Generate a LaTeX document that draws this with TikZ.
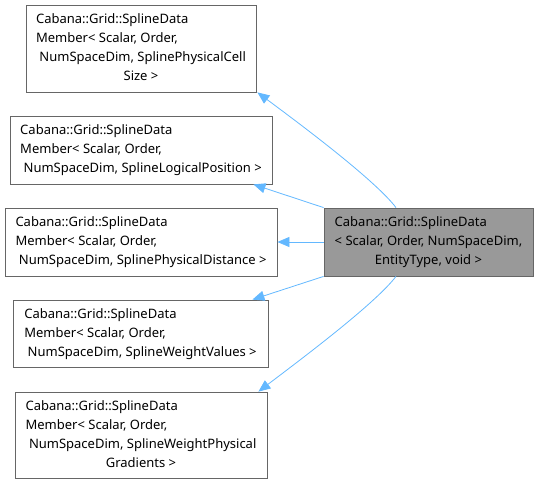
\documentclass[tikz,border=0pt]{standalone}
\usepackage{fontspec}
\setmainfont{Noto Sans}
\usetikzlibrary{arrows.meta}
\definecolor{edgeblue}{HTML}{63B8FF}
\definecolor{boxline}{HTML}{666666}
\definecolor{mainfill}{HTML}{999999}
\begin{document}
\begin{tikzpicture}[x=1bp,y=-1bp,
    every node/.style={font=\fontsize{13bp}{19bp}\selectfont,inner sep=0pt},
    base/.style={draw=boxline,line width=0.8bp},
    derived/.style={base,fill=mainfill},
    edge/.style={draw=edgeblue,line width=0.8bp,-{Triangle[length=12bp,width=10bp]}}]
    \useasboundingbox (0,0) rectangle (538,484);

    % base classes
    \node[base,minimum width=230bp,minimum height=87bp] (cellsize) at (141,48.5)
        {\begin{tabular}{@{}l@{}}Cabana::Grid::SplineData\\Member< Scalar, Order,\\\ NumSpaceDim, SplinePhysicalCell\\\multicolumn{1}{@{}c@{}}{Size >}\end{tabular}};
    \node[base,minimum width=262bp,minimum height=68bp] (logpos) at (141,150)
        {\begin{tabular}{@{}l@{}}Cabana::Grid::SplineData\\Member< Scalar, Order,\\\ NumSpaceDim, SplineLogicalPosition >\end{tabular}};
    \node[base,minimum width=272bp,minimum height=68bp] (physdist) at (141,242)
        {\begin{tabular}{@{}l@{}}Cabana::Grid::SplineData\\Member< Scalar, Order,\\\ NumSpaceDim, SplinePhysicalDistance >\end{tabular}};
    \node[base,minimum width=255bp,minimum height=67bp] (weightval) at (140.5,333.5)
        {\begin{tabular}{@{}l@{}}Cabana::Grid::SplineData\\Member< Scalar, Order,\\\ NumSpaceDim, SplineWeightValues >\end{tabular}};
    \node[base,minimum width=252bp,minimum height=86bp] (weightgrad) at (141,435)
        {\begin{tabular}{@{}l@{}}Cabana::Grid::SplineData\\Member< Scalar, Order,\\\ NumSpaceDim, SplineWeightPhysical\\\multicolumn{1}{@{}c@{}}{Gradients >}\end{tabular}};

    % derived class
    \node[derived,minimum width=209bp,minimum height=68bp] (splinedata) at (428.5,242)
        {\begin{tabular}{@{}l@{}}Cabana::Grid::SplineData\\< Scalar, Order, NumSpaceDim,\\\multicolumn{1}{@{}c@{}}{EntityType, void >}\end{tabular}};

    % inheritance edges
    \draw[edge] ([xshift=-32.5bp]splinedata.north) .. controls (375,180) and (300,124) .. ([xshift=1bp]cellsize.south east);
    \draw[edge] (splinedata.north west) -- ([xshift=-19bp]logpos.south east);
    \draw[edge] (splinedata.west) -- (physdist.east);
    \draw[edge] (splinedata.south west) -- ([xshift=-16bp]weightval.north east);
    \draw[edge] ([xshift=-32.5bp]splinedata.south) .. controls (375,304) and (300,360) .. ([xshift=-9bp]weightgrad.north east);
\end{tikzpicture}
\end{document}
